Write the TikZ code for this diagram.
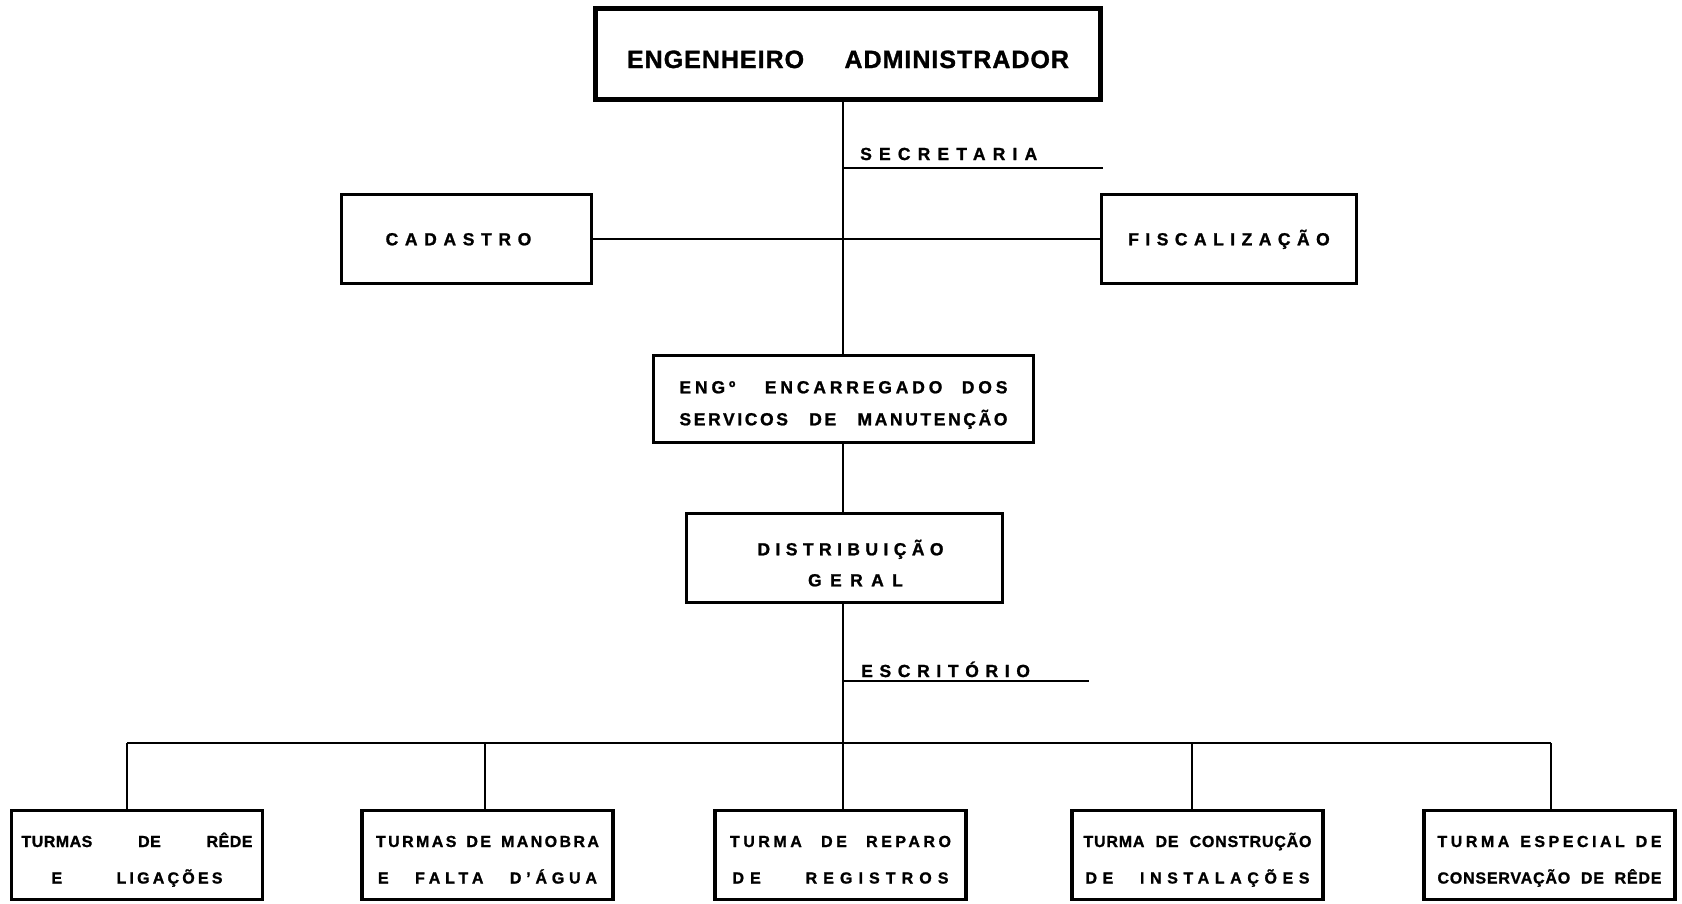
\documentclass[tikz,border=0pt]{standalone}
\usepackage{fontspec}
\setmainfont{Liberation Sans}
\newcommand\lsp[3]{{\fontsize{#1}{#1}\selectfont\bfseries\addfontfeatures{LetterSpace=#2,FakeBold=1.2}#3}}
\newcommand\jline[4]{\makebox[#1pt]{\fontsize{#2}{#2}\selectfont\bfseries\addfontfeatures{LetterSpace=#3,FakeBold=1.2}#4}}
\newcommand\sth[1]{\rule{0pt}{#1pt}}
\newcommand\std[1]{\rule[-#1pt]{0pt}{#1pt}}
\begin{document}
\begin{tikzpicture}[x=1pt,y=-1pt,
  box/.style={draw, line width=3.2pt, inner sep=0pt, align=center},
  conn/.style={line width=1.8pt},
  lbl/.style={inner sep=0pt, anchor=base west}]
\useasboundingbox (0,0) rectangle (1682,903);
% boxes
\node[box, line width=4.5pt, minimum width=505pt, minimum height=91pt] (top) at (848,54)
  {\sth{33}\jline{442}{25}{4}{ENGENHEIRO\hfill ADMINISTRADOR}\std{5}};
\node[box, minimum width=250pt, minimum height=89pt] (cad) at (466.5,239)
  {\sth{17.6}\lsp{17.5}{38}{CADASTRO}\std{5}\hspace{16pt}};
\node[box, minimum width=255pt, minimum height=89pt] (fis) at (1229,239)
  {\sth{17.6}\lsp{17.5}{37}{FISCALIZAÇÃO}\std{5}};
\node[box, minimum width=380pt, minimum height=87pt, font=\fontsize{17.5}{32}\selectfont] (eng) at (843.5,399)
  {\sth{25.6}\jline{328}{17.5}{22}{ENGº\hspace{10pt}\hfill ENCARREGADO\hfill DOS}\\
   \jline{328}{17.5}{15}{SERVICOS\hfill DE\hfill MANUTENÇÃO}\std{5}};
\node[box, minimum width=316pt, minimum height=89pt, font=\fontsize{17.5}{31}\selectfont] (dist) at (844.5,558)
  {\sth{30.6}\hspace{12pt}\lsp{17.5}{31}{DISTRIBUIÇÃO}\\\hspace{22pt}\lsp{17.5}{48}{GERAL}\std{5}};
\tikzset{bot/.style={box, minimum width=251pt, minimum height=89pt, font=\fontsize{16}{36.5}\selectfont}}
\node[bot] (b1) at (137,855)
  {\sth{25.5}\jline{231}{16}{3}{TURMAS\hfill DE\hfill RÊDE}\\\jline{171}{16}{20}{E\hfill LIGAÇÕES}\std{5}};
\node[bot] (b2) at (487.5,855)
  {\sth{25.5}\jline{223}{16}{15}{TURMAS\hfill DE\hfill MANOBRA}\\\jline{219}{16}{30}{E\hfill FALTA\hfill D'ÁGUA}\std{5}};
\node[bot] (b3) at (840.5,855)
  {\sth{25.5}\jline{221}{16}{22}{TURMA\hfill DE\hfill REPARO}\\\jline{216}{16}{38}{DE\hfill REGISTROS}\std{5}};
\node[bot] (b4) at (1197.5,855)
  {\sth{25.5}\jline{228}{16}{5}{TURMA\hfill DE\hfill CONSTRUÇÃO}\\\jline{224}{16}{35}{DE\hfill INSTALAÇÕES}\std{5}};
\node[bot] (b5) at (1549.5,855)
  {\sth{25.5}\jline{224}{16}{22}{TURMA\hfill ESPECIAL\hfill DE}\\\jline{224}{16}{5}{CONSERVAÇÃO\hfill DE\hfill RÊDE}\std{5}};
% coordinates
\coordinate (sa) at (843,168); \coordinate (sb) at (1103,168);
\coordinate (ea) at (843,681); \coordinate (eb) at (1089,681);
\coordinate (j1) at (127,743); \coordinate (j2) at (485,743); \coordinate (j3) at (843,743);
\coordinate (j4) at (1192,743); \coordinate (j5) at (1551,743);
% labels
\node[lbl] (sec) at (860,160) {\lsp{17.5}{41}{SECRETARIA}};
\node[lbl] (esc) at (861,677) {\lsp{17.5}{38}{ESCRITÓRIO}};
% connectors
\draw[conn] (top.south -| sa) -- (eng.north -| sa);
\draw[conn] (sa) -- (sb);
\draw[conn] (cad.east) -- (fis.west);
\draw[conn] (eng.south -| sa) -- (dist.north -| sa);
\draw[conn] (dist.south -| j3) -- (j3);
\draw[conn] (ea) -- (eb);
\draw[conn] (j1) -- (j5);
\foreach \i in {1,...,5} {\draw[conn] (j\i) -- (j\i |- b\i.north);}
\end{tikzpicture}
\end{document}
